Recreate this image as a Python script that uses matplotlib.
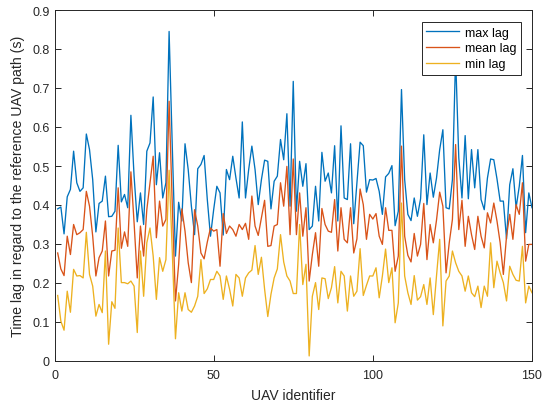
import numpy as np
import matplotlib.pyplot as plt

plt.rcParams['font.family'] = ['Liberation Sans', 'DejaVu Sans']

uav_id = np.arange(1, 151)

max_lag = [0.390, 0.395, 0.326, 0.421, 0.440, 0.538, 0.457, 0.435, 0.444, 0.582,
           0.542, 0.465, 0.331, 0.404, 0.410, 0.474, 0.370, 0.371, 0.384, 0.553,
           0.408, 0.427, 0.393, 0.630, 0.474, 0.357, 0.431, 0.350, 0.538, 0.559,
           0.677, 0.452, 0.534, 0.418, 0.457, 0.845, 0.550, 0.269, 0.407, 0.359,
           0.557, 0.491, 0.397, 0.324, 0.493, 0.504, 0.527, 0.414, 0.320, 0.388,
           0.448, 0.431, 0.323, 0.491, 0.465, 0.525, 0.469, 0.418, 0.613, 0.418,
           0.491, 0.551, 0.491, 0.401, 0.465, 0.515, 0.512, 0.390, 0.461, 0.474,
           0.568, 0.516, 0.634, 0.397, 0.717, 0.384, 0.512, 0.448, 0.506, 0.337,
           0.346, 0.448, 0.359, 0.535, 0.461, 0.482, 0.431, 0.552, 0.359, 0.603,
           0.418, 0.414, 0.557, 0.352, 0.457, 0.561, 0.552, 0.433, 0.465, 0.464,
           0.468, 0.435, 0.376, 0.472, 0.481, 0.501, 0.347, 0.384, 0.696, 0.465,
           0.376, 0.360, 0.418, 0.371, 0.416, 0.580, 0.401, 0.482, 0.420, 0.469,
           0.542, 0.593, 0.393, 0.390, 0.465, 0.780, 0.521, 0.418, 0.578, 0.416,
           0.542, 0.444, 0.542, 0.414, 0.388, 0.469, 0.518, 0.516, 0.467, 0.410,
           0.410, 0.313, 0.452, 0.493, 0.393, 0.448, 0.527, 0.329, 0.431, 0.393]

mean_lag = [0.277, 0.236, 0.219, 0.320, 0.273, 0.350, 0.324, 0.329, 0.337, 0.435,
            0.397, 0.320, 0.218, 0.265, 0.282, 0.359, 0.218, 0.282, 0.284, 0.444,
            0.289, 0.331, 0.294, 0.485, 0.354, 0.213, 0.346, 0.269, 0.388, 0.457,
            0.525, 0.316, 0.410, 0.346, 0.363, 0.666, 0.400, 0.154, 0.248, 0.390,
            0.333, 0.252, 0.201, 0.388, 0.346, 0.277, 0.262, 0.305, 0.341, 0.333,
            0.337, 0.243, 0.378, 0.327, 0.346, 0.337, 0.320, 0.350, 0.337, 0.353,
            0.312, 0.423, 0.346, 0.322, 0.367, 0.412, 0.294, 0.296, 0.346, 0.350,
            0.457, 0.397, 0.499, 0.324, 0.518, 0.324, 0.431, 0.320, 0.393, 0.205,
            0.273, 0.329, 0.243, 0.391, 0.350, 0.333, 0.330, 0.414, 0.282, 0.393,
            0.312, 0.303, 0.393, 0.277, 0.313, 0.441, 0.401, 0.312, 0.376, 0.364,
            0.378, 0.320, 0.299, 0.393, 0.335, 0.335, 0.230, 0.269, 0.551, 0.320,
            0.271, 0.254, 0.327, 0.269, 0.299, 0.404, 0.260, 0.350, 0.303, 0.361,
            0.433, 0.397, 0.226, 0.303, 0.363, 0.555, 0.337, 0.412, 0.294, 0.371,
            0.324, 0.286, 0.371, 0.320, 0.290, 0.380, 0.354, 0.405, 0.359, 0.303,
            0.222, 0.320, 0.376, 0.312, 0.401, 0.376, 0.457, 0.256, 0.299, 0.299]

min_lag = [0.168, 0.102, 0.079, 0.179, 0.125, 0.235, 0.218, 0.219, 0.213, 0.330,
           0.222, 0.192, 0.115, 0.145, 0.124, 0.282, 0.043, 0.152, 0.135, 0.341,
           0.201, 0.201, 0.198, 0.205, 0.192, 0.073, 0.282, 0.166, 0.303, 0.341,
           0.269, 0.158, 0.265, 0.230, 0.260, 0.489, 0.280, 0.057, 0.175, 0.128,
           0.175, 0.132, 0.125, 0.141, 0.166, 0.260, 0.173, 0.185, 0.209, 0.209,
           0.230, 0.218, 0.158, 0.218, 0.184, 0.141, 0.222, 0.213, 0.166, 0.213,
           0.226, 0.233, 0.296, 0.222, 0.266, 0.184, 0.114, 0.171, 0.213, 0.236,
           0.324, 0.254, 0.218, 0.205, 0.173, 0.173, 0.350, 0.196, 0.248, 0.013,
           0.166, 0.201, 0.132, 0.213, 0.211, 0.160, 0.188, 0.242, 0.149, 0.230,
           0.218, 0.128, 0.218, 0.166, 0.179, 0.288, 0.168, 0.194, 0.218, 0.218,
           0.239, 0.162, 0.218, 0.287, 0.201, 0.239, 0.098, 0.149, 0.405, 0.218,
           0.175, 0.145, 0.219, 0.156, 0.165, 0.196, 0.145, 0.213, 0.119, 0.218,
           0.312, 0.090, 0.205, 0.218, 0.282, 0.252, 0.230, 0.218, 0.179, 0.218,
           0.175, 0.165, 0.192, 0.137, 0.192, 0.166, 0.303, 0.188, 0.256, 0.226,
           0.201, 0.154, 0.243, 0.222, 0.207, 0.205, 0.294, 0.149, 0.192, 0.175]

c_max = (0.000, 0.447, 0.741)
c_mean = (0.850, 0.325, 0.098)
c_min = (0.929, 0.694, 0.125)
gray = (0.15, 0.15, 0.15)

fig = plt.figure(figsize=(5.44, 4.06), dpi=100)
ax = fig.add_axes([54.5 / 544, 1 - 362 / 406, (532 - 54.5) / 544, (362 - 11) / 406])

ax.plot(uav_id, max_lag, color=c_max, lw=0.95, label='max lag')
ax.plot(uav_id, mean_lag, color=c_mean, lw=0.95, label='mean lag')
ax.plot(uav_id, min_lag, color=c_min, lw=0.95, label='min lag')

ax.set_xlim(0, 150)
ax.set_ylim(0, 0.9)
ax.set_xticks([0, 50, 100, 150])
ax.set_yticks(np.arange(0, 0.91, 0.1))
ax.set_yticklabels(['0', '0.1', '0.2', '0.3', '0.4', '0.5', '0.6', '0.7', '0.8', '0.9'])

for s in ax.spines.values():
    s.set_color(gray)
    s.set_linewidth(0.7)
ax.tick_params(direction='in', top=True, right=True, length=4, width=0.7,
               colors=gray, labelsize=9, labelcolor=gray)
ax.tick_params(axis='x', pad=6)

ax.set_xlabel('UAV identifier', fontsize=10, color=gray, labelpad=5)
ax.set_ylabel('Time lag in regard to the reference UAV path (s)', fontsize=10.2,
              color=gray, labelpad=5)

leg = ax.legend(loc='upper right', bbox_to_anchor=(0.9764, 0.965), borderaxespad=0,
                fontsize=9, frameon=True, fancybox=False, edgecolor=gray, framealpha=1,
                handlelength=2.6, borderpad=0.35, labelspacing=0.3, handletextpad=0.5)
leg.get_frame().set_linewidth(0.7)
leg.set_zorder(5)

fig.savefig('out.png', dpi=100)
